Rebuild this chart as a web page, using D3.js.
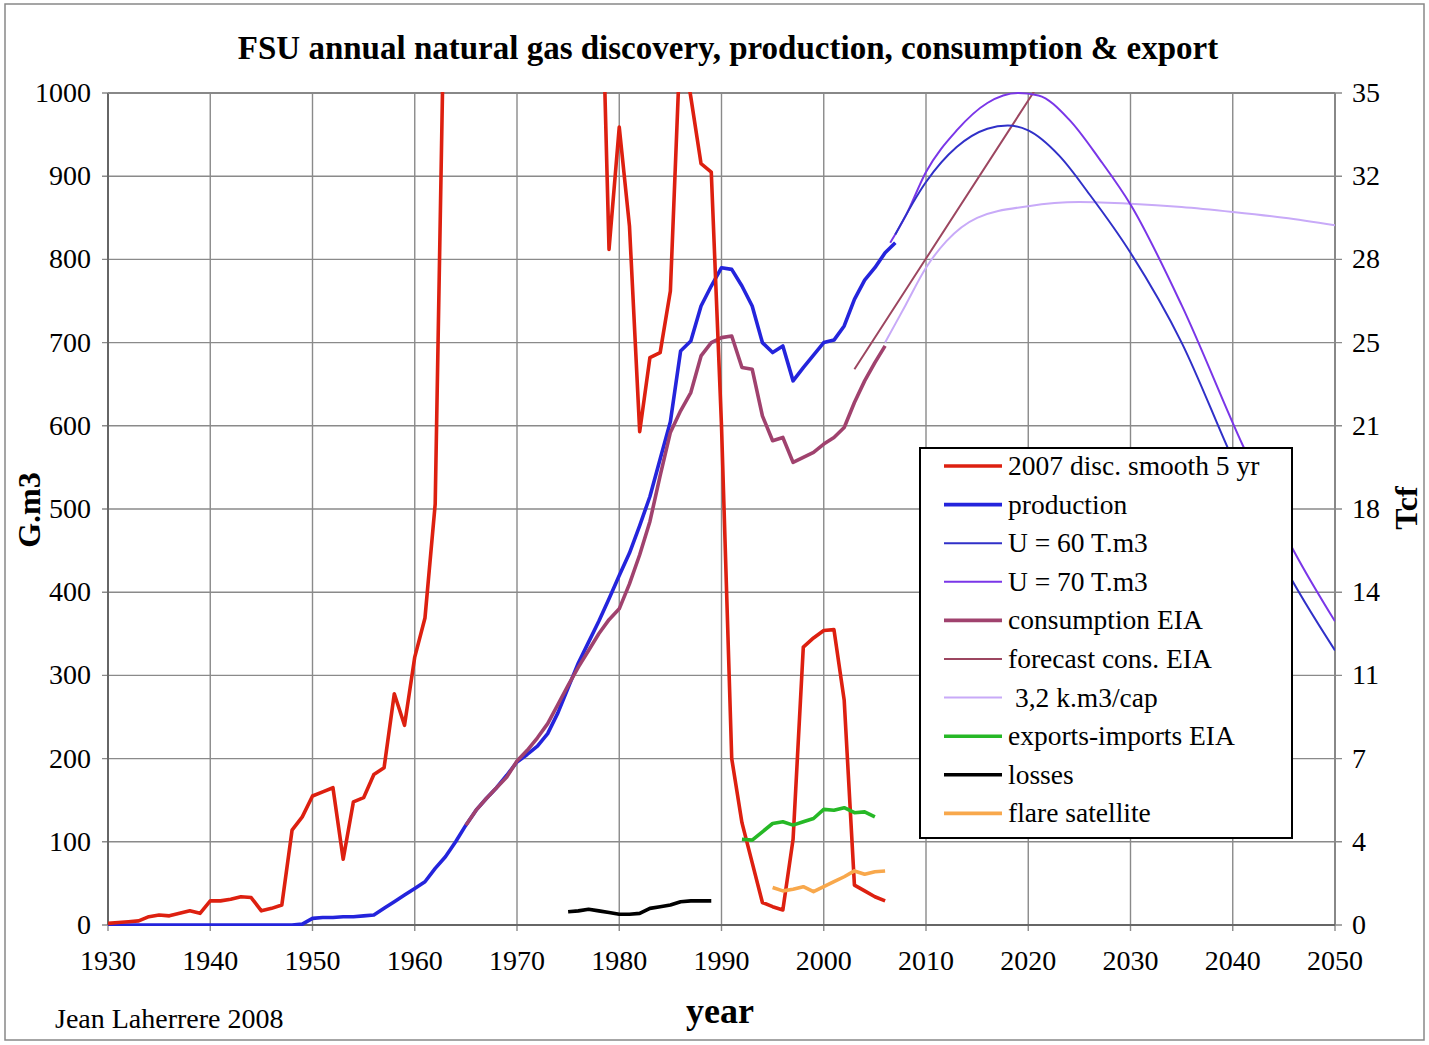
<!DOCTYPE html>
<html><head><meta charset="utf-8">
<script src="https://cdn.jsdelivr.net/npm/d3@7"></script>
<style>body{margin:0;background:#fff}svg{display:block}text{font-family:"Liberation Serif","Times New Roman",serif}</style>
</head><body><svg id="c" width="1429" height="1045"></svg>
<script>
// ---- data (G.m3 per year) ----
const discYears = d3.range(1930, 2007);
const discovery = [2,3,4,5,10,12,11,14,17,14,29,29,31,34,33,17,20,24,114,130,155,160,165,79,148,153,181,189,278,240,322,369,506,
 1200,1700,2100,2400,2300,2600,2200,2500,2300,2100,1900,2000,1800,1600,1500,1280,
 812,959,840,593,682,688,762,1070,995,915,905,600,200,123,75,27,22,18,103,334,345,354,355,270,48,41,34,29];
const prodYears = d3.range(1930, 2008);
const production = [0,0,0,0,0,0,0,0,0,0,0,0,0,0,0,0,0,0,0,1,8,9,9,10,10,11,12,20,28,36,44,52,68,82,100,120,
 138,152,165,180,196,205,215,230,255,285,315,340,365,392,420,447,480,515,560,605,690,702,744,768,790,788,768,744,700,688,696,654,670,685,700,703,720,752,775,790,808,820];
const consYears = d3.range(1965, 2007);
const consumption = [120,138,152,165,178,197,210,225,242,265,288,310,330,350,367,380,410,445,485,540,592,618,640,684,700,706,708,670,668,612,582,586,556,562,568,578,586,598,628,654,676,696];
const u60Years = [2007,2010,2013,2016,2018,2020,2023,2026,2030,2035,2040,2045,2050];
const u60 =      [830, 893, 935, 957, 961, 955, 925, 878, 808, 700, 560, 432, 330];
const u70Years = [2006.5,2008,2010,2013,2016,2019,2021,2024,2027,2030,2035,2041,2046,2050];
const u70 =      [820,   852, 905, 955, 988, 1000,997, 968, 920, 866, 745, 576, 449, 365];
const fcYears = [2003, 2010, 2020, 2030];
const forecast = [668, 801, 991, 1181];
const capYears = [2006,2008,2010,2012,2015,2020,2025,2030,2035,2040,2045,2050];
const perCap =   [700, 745, 790, 822, 850, 864, 869, 867, 863, 857, 850, 841];
const expYears = d3.range(1992, 2006);
const exportsImports = [103,102,112,122,124,120,124,128,139,138,141,135,136,130];
const lossYears = d3.range(1975, 1990);
const losses = [16,17,19,17,15,13,13,14,20,22,24,28,29,29,29];
const flareYears = d3.range(1995, 2007);
const flare = [45,41,43,46,40,46,52,58,65,61,64,65];
const xTicks = d3.range(1930, 2051, 10);
const yTicks = d3.range(0, 1001, 100);
const tcfLabels = ["0","4","7","11","14","18","21","25","28","32","35"];

// ---- series definitions ----
const series = [
 {name:"2007 disc. smooth 5 yr", x:discYears, y:discovery, color:"#dd2010", w:3.6, curve:d3.curveLinear},
 {name:"production", x:prodYears, y:production, color:"#2424dc", w:3.6, curve:d3.curveLinear},
 {name:"U = 60 T.m3", x:u60Years, y:u60, color:"#3030c8", w:2, curve:d3.curveMonotoneX},
 {name:"U = 70 T.m3", x:u70Years, y:u70, color:"#7a36e8", w:2, curve:d3.curveMonotoneX},
 {name:"consumption EIA", x:consYears, y:consumption, color:"#a0426e", w:3.6, curve:d3.curveLinear},
 {name:"forecast cons. EIA", x:fcYears, y:forecast, color:"#9c4660", w:2, curve:d3.curveLinear},
 {name:" 3,2 k.m3/cap", x:capYears, y:perCap, color:"#c8aaf8", w:2, curve:d3.curveMonotoneX},
 {name:"exports-imports EIA", x:expYears, y:exportsImports, color:"#26b826", w:3.6, curve:d3.curveLinear},
 {name:"losses", x:lossYears, y:losses, color:"#000000", w:3.6, curve:d3.curveLinear},
 {name:"flare satellite", x:flareYears, y:flare, color:"#f8a84c", w:3.6, curve:d3.curveLinear}
];
const drawOrder = [6,5,3,2,1,4,0,7,8,9];

const svg = d3.select("#c");
const L=108, R=1335, T=93, B=925;
const x = d3.scaleLinear([1930,2050],[L,R]);
const y = d3.scaleLinear([0,1000],[B,T]);

// outer frame
svg.append("rect").attr("x",5).attr("y",4).attr("width",1419).attr("height",1036)
  .attr("fill","none").attr("stroke","#888").attr("stroke-width",1.5);

// title
svg.append("text").attr("x",728).attr("y",59).attr("text-anchor","middle")
  .attr("font-size",33).attr("font-weight","bold")
  .text("FSU annual natural gas discovery, production, consumption & export");

// grid
const g = svg.append("g");
g.selectAll("line.h").data(yTicks).join("line")
  .attr("x1",L-6).attr("x2",R+7).attr("y1",d=>y(d)).attr("y2",d=>y(d))
  .attr("stroke","#8a8a8a").attr("stroke-width",1.4);
g.selectAll("line.v").data(xTicks).join("line")
  .attr("y1",T).attr("y2",B+6).attr("x1",d=>x(d)).attr("x2",d=>x(d))
  .attr("stroke","#8a8a8a").attr("stroke-width",1.4);
// axis lines
g.append("line").attr("x1",L).attr("x2",L).attr("y1",T).attr("y2",B).attr("stroke","#666").attr("stroke-width",2);
g.append("line").attr("x1",R).attr("x2",R).attr("y1",T).attr("y2",B).attr("stroke","#888").attr("stroke-width",2);
g.append("line").attr("x1",L).attr("x2",R).attr("y1",B).attr("y2",B).attr("stroke","#666").attr("stroke-width",2);
g.append("line").attr("x1",L).attr("x2",R).attr("y1",T).attr("y2",T).attr("stroke","#888").attr("stroke-width",2);

// tick labels
svg.selectAll("text.yl").data(yTicks).join("text")
  .attr("x",L-17).attr("y",d=>y(d)+9).attr("text-anchor","end").attr("font-size",28).text(d=>d);
svg.selectAll("text.yr").data(yTicks).join("text")
  .attr("x",R+17).attr("y",d=>y(d)+9).attr("text-anchor","start").attr("font-size",28).text((d,i)=>tcfLabels[i]);
svg.selectAll("text.xl").data(xTicks).join("text")
  .attr("x",d=>x(d)).attr("y",970).attr("text-anchor","middle").attr("font-size",28).text(d=>d);

// axis titles
svg.append("text").attr("transform","translate(40,510) rotate(-90)").attr("text-anchor","middle")
  .attr("font-size",32).attr("font-weight","bold").text("G.m3");
svg.append("text").attr("transform","translate(1417,508) rotate(-90)").attr("text-anchor","middle")
  .attr("font-size",32).attr("font-weight","bold").text("Tcf");
svg.append("text").attr("x",720).attr("y",1023).attr("text-anchor","middle")
  .attr("font-size",36).attr("font-weight","bold").text("year");
svg.append("text").attr("x",55).attr("y",1028).attr("font-size",28).text("Jean Laherrere 2008");

// clip
svg.append("clipPath").attr("id","clip").append("rect").attr("x",L).attr("y",T-1).attr("width",R-L).attr("height",B-T+2);
const pg = svg.append("g").attr("clip-path","url(#clip)");
drawOrder.forEach(i=>{
  const s = series[i];
  const pts = s.x.map((xx,j)=>[xx,s.y[j]]);
  pg.append("path").attr("d", d3.line().x(d=>x(d[0])).y(d=>y(d[1])).curve(s.curve)(pts))
    .attr("fill","none").attr("stroke",s.color).attr("stroke-width",s.w)
    .attr("stroke-linejoin","round").attr("stroke-linecap","butt");
});

// legend
const lg = svg.append("g");
lg.append("rect").attr("x",920).attr("y",448).attr("width",372).attr("height",390)
  .attr("fill","#fff").attr("stroke","#000").attr("stroke-width",2);
series.forEach((s,i)=>{
  const yy = 466 + i*38.6;
  lg.append("line").attr("x1",944).attr("x2",1002).attr("y1",yy).attr("y2",yy)
    .attr("stroke",s.color).attr("stroke-width",s.w);
  lg.append("text").attr("x",1008).attr("y",yy+9).attr("font-size",27.5).attr("xml:space","preserve").text(s.name);
});
</script></body></html>
